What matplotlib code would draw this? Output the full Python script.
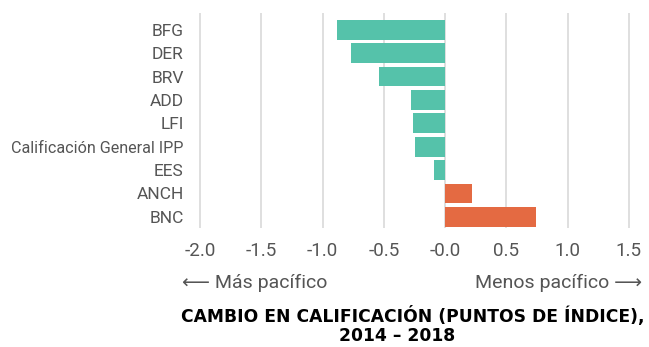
import matplotlib
matplotlib.use("Agg")
import matplotlib.pyplot as plt

# change in score per indicator, 2014-2018
categories = ["BFG", "DER", "BRV", "ADD", "LFI", "Calificación General IPP",
              "EES", "ANCH", "BNC"]
changes = [-0.887, -0.771, -0.543, -0.276, -0.263, -0.246, -0.089, 0.218, 0.744]
tick_values = [-2.0, -1.5, -1.0, -0.5, 0.0, 0.5, 1.0, 1.5]
tick_labels = ["-2.0", "-1.5", "-1.0", "-0.5", "-0.0", "0.5", "1.0", "1.5"]

GREEN = "#55c2aa"
ORANGE = "#e46a42"
GREY_TXT = "#555555"

plt.rcParams["font.family"] = ["Roboto", "DejaVu Sans"]

W, H = 649, 347
fig = plt.figure(figsize=(W / 100, H / 100), dpi=100)

# axes placed in pixel terms
left, right, top, bottom = 199, 630, 12.7, 227.7
ax = fig.add_axes([left / W, 1 - bottom / H, (right - left) / W, (bottom - top) / H])

colors = [GREEN if v < 0 else ORANGE for v in changes]
ypos = range(len(categories))
ax.barh(ypos, changes, height=0.845, color=colors, zorder=2)

ax.set_xlim(-2.01, 1.51)
ax.set_ylim(8.464, -0.734)
ax.set_xticks(tick_values)
ax.set_xticklabels(tick_labels, fontsize=13.5, color=GREY_TXT)
ax.tick_params(axis="x", length=0, pad=10)
ax.grid(axis="x", color="#d9d9d9", linewidth=1.2, zorder=0)

ax.set_yticks(list(ypos))
ax.set_yticklabels(categories, color=GREY_TXT, fontsize=12.5)
ax.get_yticklabels()[5].set_fontsize(11.6)
ax.tick_params(axis="y", length=0, pad=11)

for s in ax.spines.values():
    s.set_visible(False)

# direction hints under the axis
fig.text(182 / W, 1 - 283 / H, "⟵ Más pacífico", fontsize=14, color=GREY_TXT,
         ha="left", va="center", family=["Roboto", "DejaVu Sans"])
fig.text(642 / W, 1 - 283 / H, "Menos pacífico ⟶", fontsize=14, color=GREY_TXT,
         ha="right", va="center", family=["Roboto", "DejaVu Sans"])

# axis title
fig.text(413 / W, 1 - 316 / H, "CAMBIO EN CALIFICACIÓN (PUNTOS DE ÍNDICE),",
         fontsize=12.3, fontweight="heavy", color="black", ha="center", va="center",
         family=["DejaVu Sans"])
fig.text(397 / W, 1 - 336 / H, "2014 – 2018",
         fontsize=12.3, fontweight="heavy", color="black", ha="center", va="center",
         family=["DejaVu Sans"])

fig.savefig("out.png", dpi=100)
